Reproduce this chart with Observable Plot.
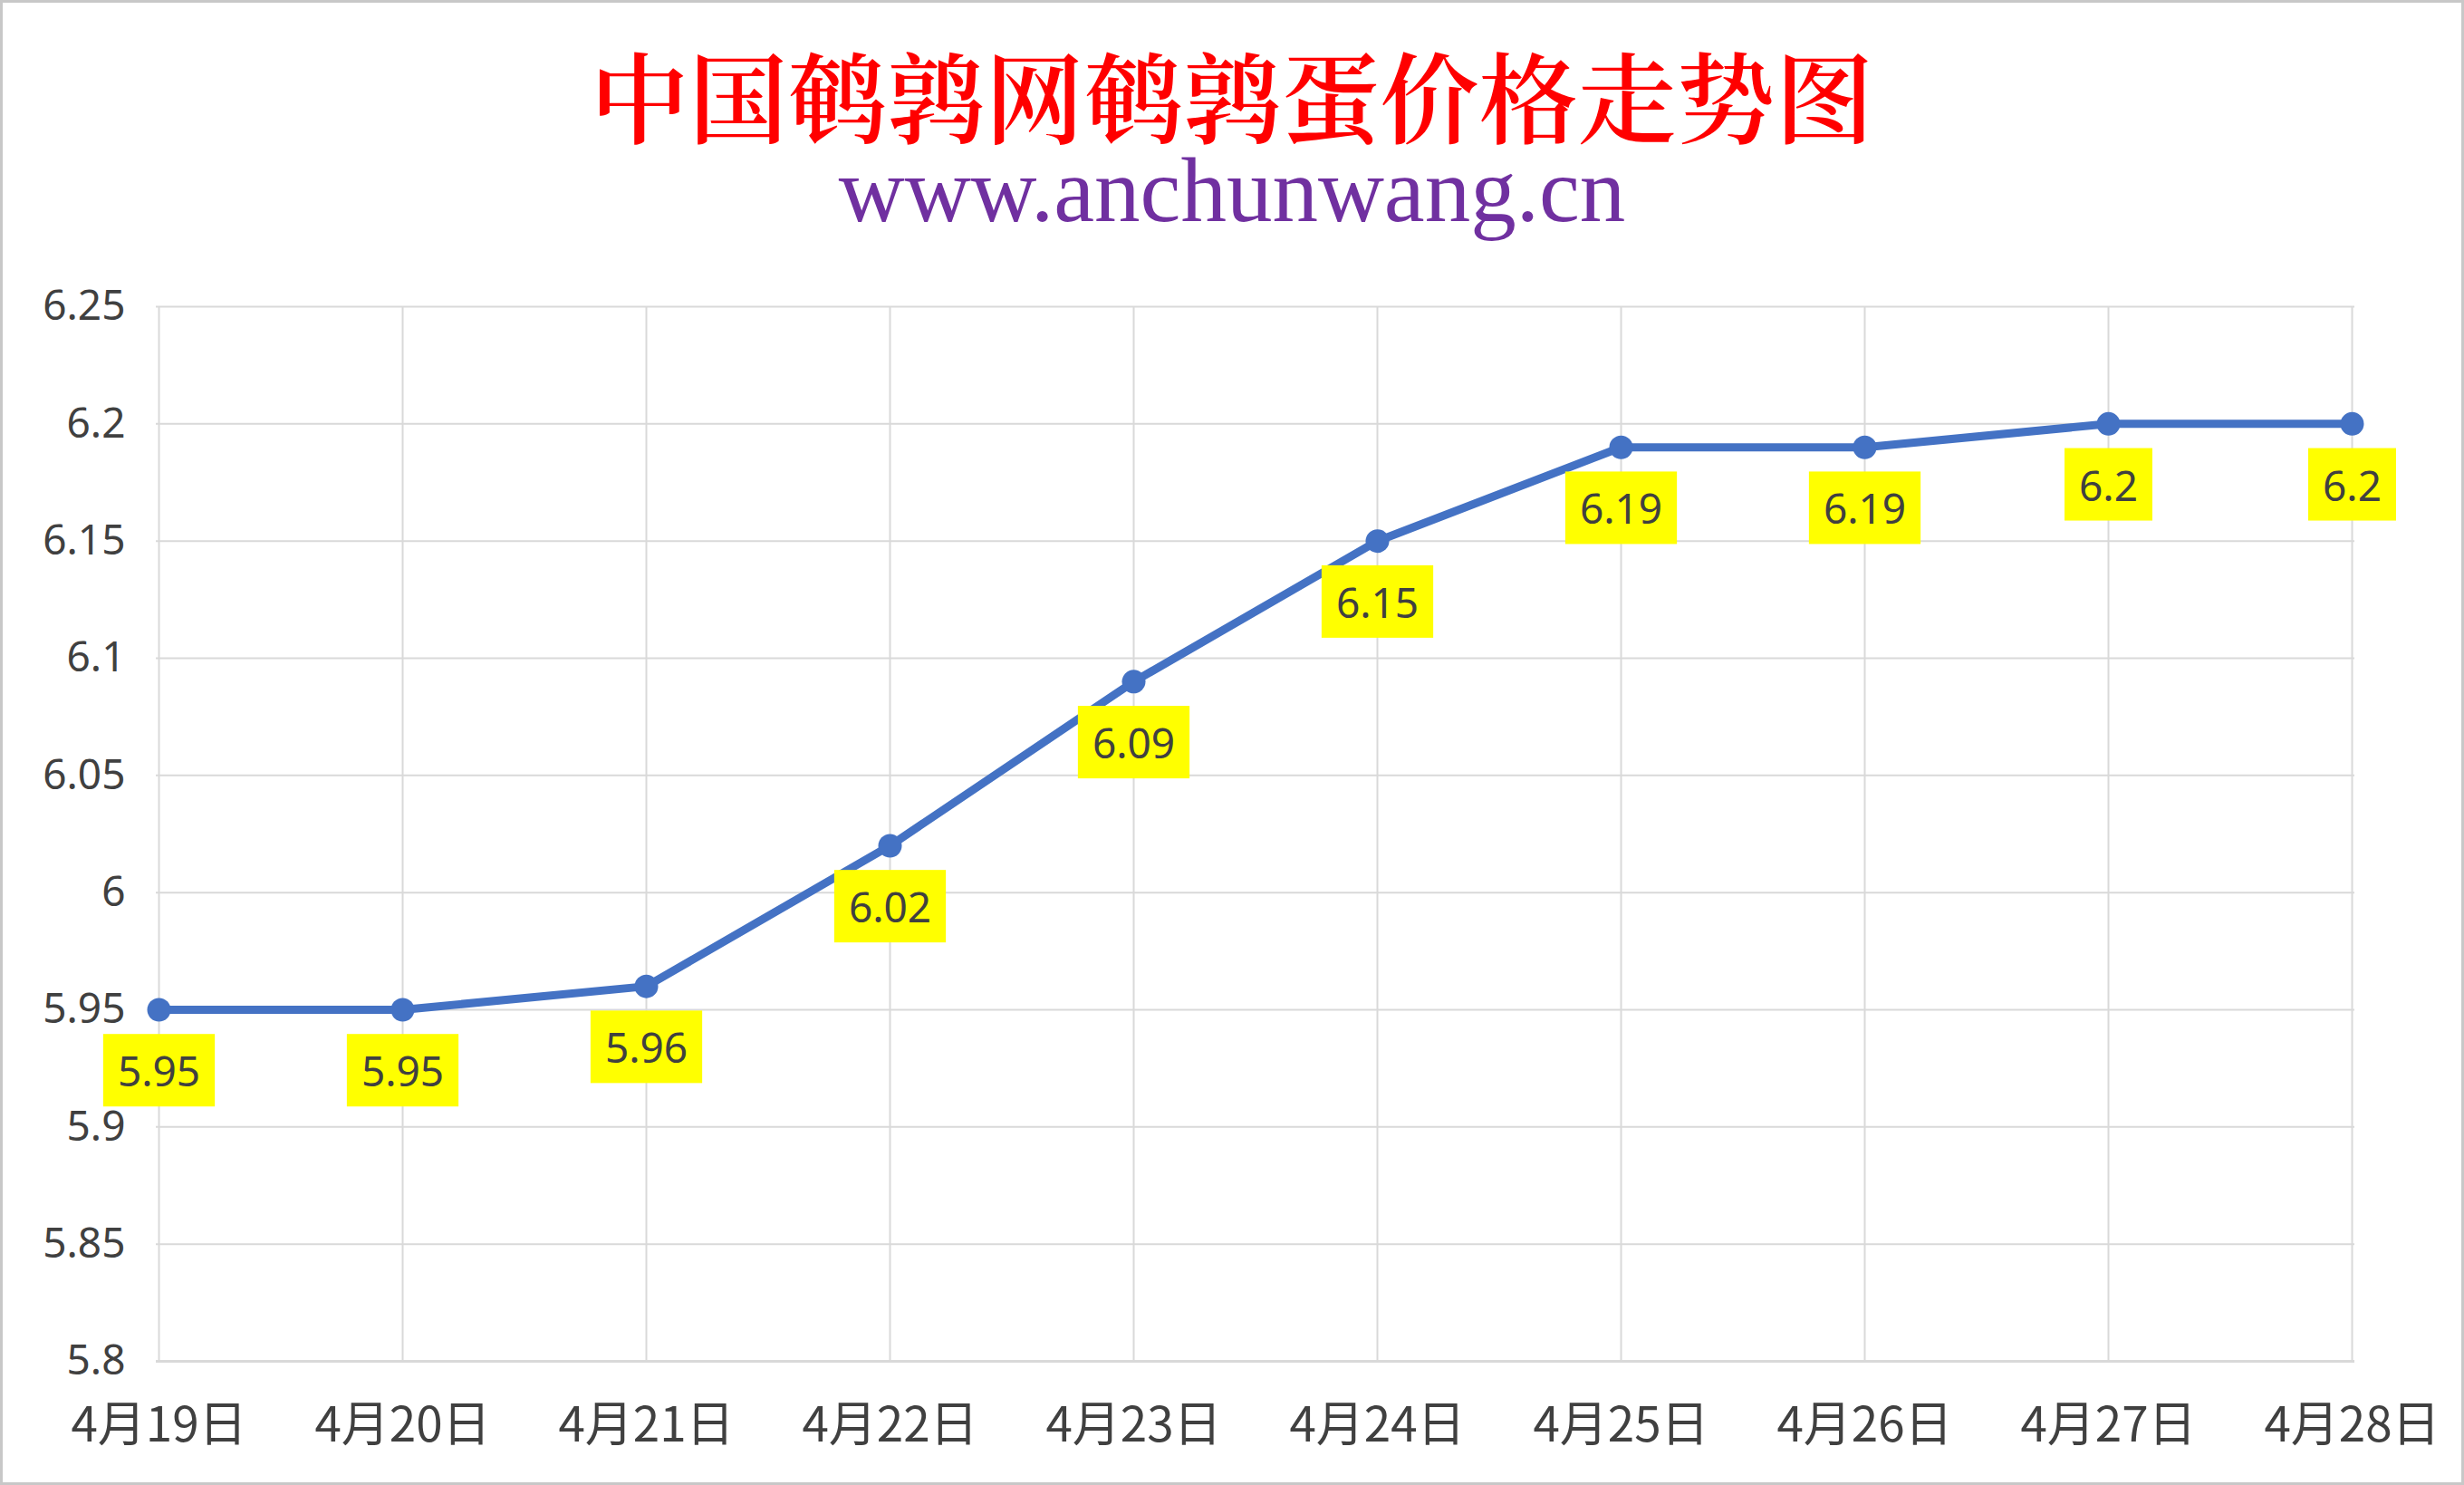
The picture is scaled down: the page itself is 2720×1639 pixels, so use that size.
<!DOCTYPE html>
<html><head><meta charset="utf-8">
<script src="https://cdn.jsdelivr.net/npm/d3@7"></script>
<script src="https://cdn.jsdelivr.net/npm/@observablehq/plot@0.6"></script>
<style>
html,body{margin:0;padding:0;background:#fff;}
#wrap{position:relative;width:2720px;height:1639px;box-sizing:border-box;border:3px solid #c8c8c8;background:#fff;overflow:hidden;}
#title{position:absolute;left:0;right:0;top:46px;text-align:center;font-family:"Noto Serif CJK SC","Noto Sans CJK SC",serif;font-weight:600;font-size:109px;line-height:109px;color:#ff0000;white-space:nowrap;}
#subtitle{position:absolute;left:0;right:0;top:157px;text-align:center;font-family:"Liberation Serif","DejaVu Serif",serif;font-size:101px;line-height:101px;color:#7030a0;white-space:nowrap;}
#chart{position:absolute;left:0;top:257px;}
</style></head><body>
<div id="wrap">
  <div id="title"></div>
  <div id="subtitle"></div>
  <div id="chart"></div>
</div>
<script>
const titleText = "中国鹌鹑网鹌鹑蛋价格走势图";
const subtitleText = "www.anchunwang.cn";
const dates = ["4月19日","4月20日","4月21日","4月22日","4月23日","4月24日","4月25日","4月26日","4月27日","4月28日"];
const prices = [5.95, 5.95, 5.96, 6.02, 6.09, 6.15, 6.19, 6.19, 6.2, 6.2];
const yTicks = [5.8, 5.85, 5.9, 5.95, 6, 6.05, 6.1, 6.15, 6.2, 6.25];

document.getElementById("title").textContent = titleText;
document.getElementById("subtitle").textContent = subtitleText;

const data = dates.map((d, i) => ({date: d, price: prices[i]}));
const axisFont = "'Noto Sans','Noto Sans CJK SC',sans-serif";

const chart = Plot.plot({
  width: 2714,
  height: 1376,
  marginLeft: 169,
  marginRight: 118,
  marginTop: 78,
  marginBottom: 134,
  style: {fontFamily: axisFont, fontSize: "46px", color: "#404040", background: "transparent", overflow: "visible"},
  x: {type: "point", domain: dates, padding: 0, label: null},
  y: {domain: [5.8, 6.25], ticks: yTicks, label: null},
  marks: [
    Plot.gridY(yTicks, {stroke: "#d9d9d9", strokeOpacity: 1, strokeWidth: 2}),
    Plot.gridX(dates, {stroke: "#d9d9d9", strokeOpacity: 1, strokeWidth: 2}),
    Plot.ruleY([5.8], {stroke: "#d9d9d9", strokeWidth: 3}),
    Plot.axisY(yTicks, {tickSize: 0, tickPadding: 34, tickFormat: d => String(d), fontSize: 46, fill: "#404040", label: null}),
    Plot.axisX(dates, {tickSize: 0, tickPadding: 51, fontSize: 53, fill: "#404040", label: null, fontFamily: "'Noto Sans CJK SC',sans-serif"}),
    Plot.line(data, {x: "date", y: "price", stroke: "#4472c4", strokeWidth: 9}),
    Plot.dot(data, {x: "date", y: "price", r: 13, fill: "#4472c4", stroke: "none"}),
    Plot.text(data, {x: "date", y: "price", text: d => String(d.price), dy: 70, fontSize: 46, fill: "#404040", className: "vlabel", lineAnchor: "middle"})
  ]
});
document.getElementById("chart").appendChild(chart);

// yellow label backgrounds sized from the rendered text
const padX = 16, boxH = 80;
chart.querySelectorAll(".vlabel text").forEach(t => {
  const b = t.getBBox();
  const r = document.createElementNS("http://www.w3.org/2000/svg", "rect");
  r.setAttribute("x", b.x - padX);
  r.setAttribute("y", b.y + b.height / 2 - boxH / 2);
  r.setAttribute("width", b.width + 2 * padX);
  r.setAttribute("height", boxH);
  r.setAttribute("fill", "#ffff00");
  const tr = t.getAttribute("transform");
  if (tr) r.setAttribute("transform", tr);
  t.parentNode.insertBefore(r, t);
});
</script>
</body></html>
